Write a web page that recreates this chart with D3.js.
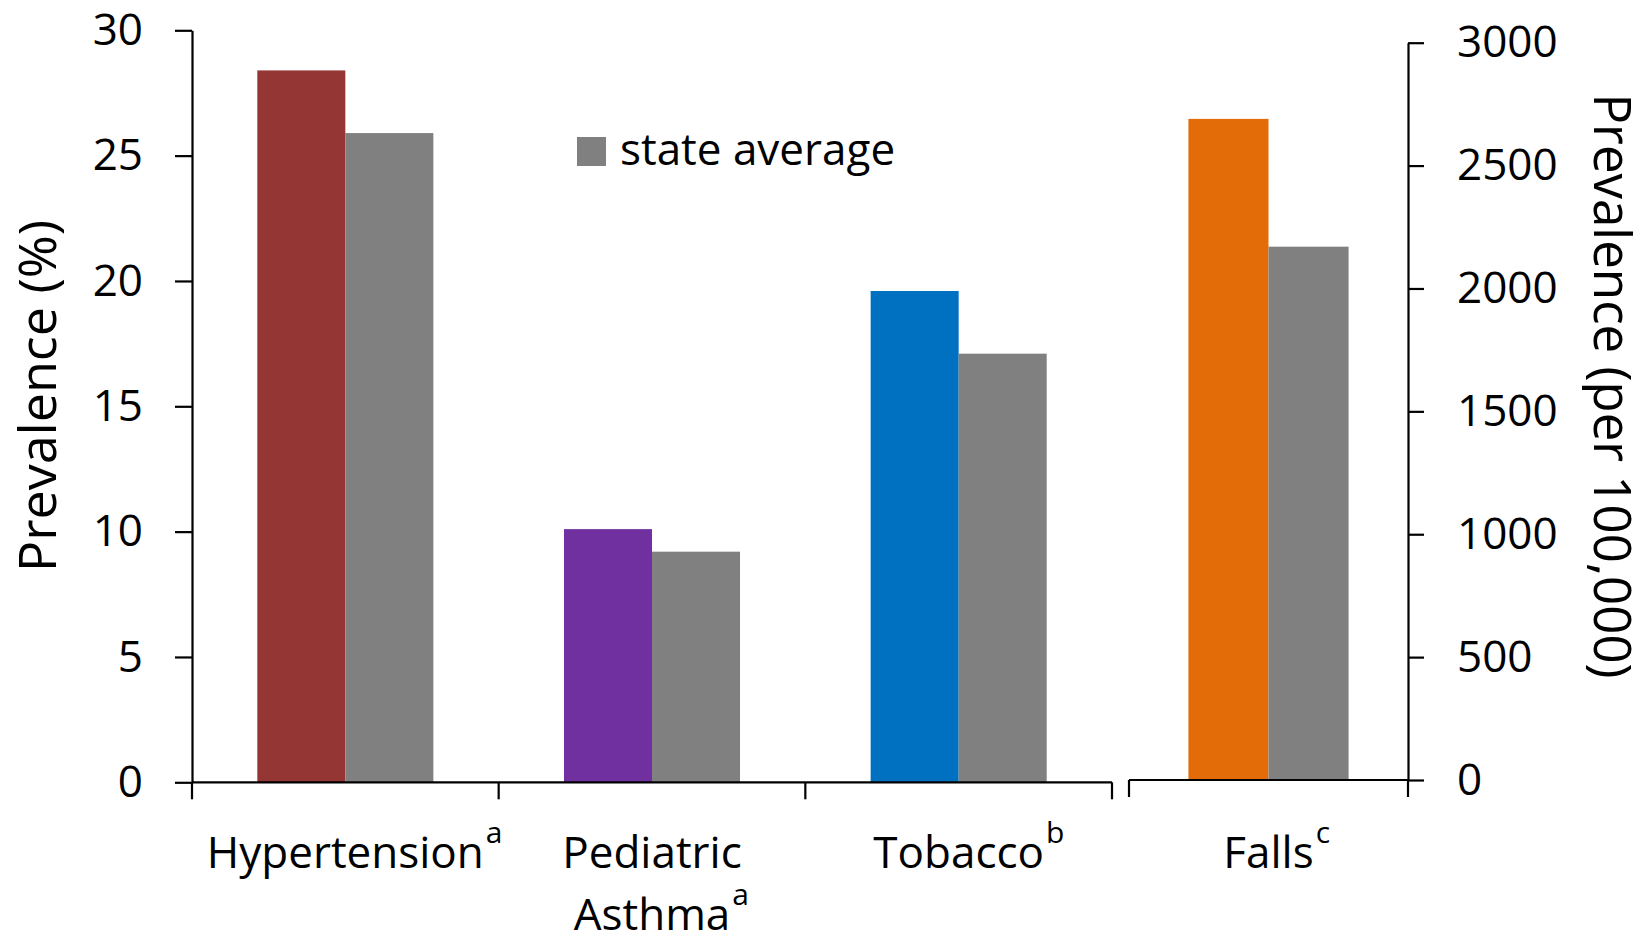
<!DOCTYPE html>
<html>
<head>
<meta charset="utf-8">
<script src="https://cdn.jsdelivr.net/npm/d3@7"></script>
<style>
  html, body { margin: 0; padding: 0; background: #fff; }
  svg { display: block; font-family: "Open Sans", sans-serif; }
</style>
</head>
<body>
<svg id="chart" width="1650" height="939"></svg>
<script>
// Percent-based measures (left axis)
const categories = ["Hypertension", "Pediatric Asthma", "Tobacco"];
const superscripts = ["a", "a", "b"];
const countyValues = [28.4, 10.1, 19.6];
const stateValues = [25.9, 9.2, 17.1];
const countyColors = ["#943634", "#7030A0", "#0070C0"];

// Rate-based measure (right axis, per 100,000)
const rateCategories = ["Falls"];
const rateSuperscripts = ["c"];
const rateCounty = [2690];
const rateState = [2170];
const rateColors = ["#E36C09"];

const leftTicks = [0, 5, 10, 15, 20, 25, 30];
const rightTicks = [0, 500, 1000, 1500, 2000, 2500, 3000];
const stateColor = "#808080";

const svg = d3.select("#chart");
svg.append("rect").attr("width", 1650).attr("height", 939).attr("fill", "#fff");

const yL = d3.scaleLinear().domain([0, 30]).range([782.3, 30.3]);
const yR = d3.scaleLinear().domain([0, 3000]).range([780, 42.7]);

const x0 = d3.scaleBand().domain(categories).range([192, 1112]).paddingInner(0).paddingOuter(0);
const xR = d3.scaleBand().domain(rateCategories).range([1129, 1408]).paddingInner(0).paddingOuter(0);
const x1 = d3.scaleBand().domain(["county", "state"]).range([0, x0.bandwidth()]).paddingInner(0).paddingOuter(0.742);
const x1R = d3.scaleBand().domain(["county", "state"]).range([0, xR.bandwidth()]).paddingInner(0).paddingOuter(0.742);

// Bars: percent panel
const leftData = categories.map((c, i) => ({ c, county: countyValues[i], state: stateValues[i], color: countyColors[i] }));
const gL = svg.append("g");
gL.selectAll("rect.county").data(leftData).join("rect")
  .attr("x", d => x0(d.c) + x1("county"))
  .attr("width", x1.bandwidth())
  .attr("y", d => yL(d.county))
  .attr("height", d => yL(0) - yL(d.county))
  .attr("fill", d => d.color);
gL.selectAll("rect.state").data(leftData).join("rect")
  .attr("x", d => x0(d.c) + x1("state"))
  .attr("width", x1.bandwidth())
  .attr("y", d => yL(d.state))
  .attr("height", d => yL(0) - yL(d.state))
  .attr("fill", stateColor);

// Bars: rate panel
const rightData = rateCategories.map((c, i) => ({ c, county: rateCounty[i], state: rateState[i], color: rateColors[i] }));
const gR = svg.append("g");
gR.selectAll("rect.county").data(rightData).join("rect")
  .attr("x", d => xR(d.c) + x1R("county"))
  .attr("width", x1R.bandwidth())
  .attr("y", d => yR(d.county))
  .attr("height", d => yR(0) - yR(d.county))
  .attr("fill", d => d.color);
gR.selectAll("rect.state").data(rightData).join("rect")
  .attr("x", d => xR(d.c) + x1R("state"))
  .attr("width", x1R.bandwidth())
  .attr("y", d => yR(d.state))
  .attr("height", d => yR(0) - yR(d.state))
  .attr("fill", stateColor);

// Axes
const lineW = 2.2;
function styleAxis(g) {
  g.selectAll("path.domain").attr("stroke", "#000").attr("stroke-width", lineW);
  g.selectAll(".tick line").attr("stroke", "#000").attr("stroke-width", lineW);
  g.selectAll(".tick text").attr("fill", "#000").attr("font-size", 44)
    .attr("font-family", "'Open Sans', sans-serif");
}

const axL = svg.append("g").attr("transform", "translate(192,0)")
  .call(d3.axisLeft(yL).tickValues(leftTicks).tickFormat(d3.format("d"))
    .tickSize(17).tickSizeOuter(0).tickPadding(32));
styleAxis(axL);

const axR = svg.append("g").attr("transform", "translate(1408,0)")
  .call(d3.axisRight(yR).tickValues(rightTicks).tickFormat(d3.format("d"))
    .tickSize(16).tickSizeOuter(0).tickPadding(33));
styleAxis(axR);

// Category baselines with boundary ticks
function baseAxis(scale, y0, tickLen) {
  const [a, b] = scale.range();
  const g = svg.append("g");
  g.append("line").attr("x1", a).attr("x2", b).attr("y1", y0).attr("y2", y0)
    .attr("stroke", "#000").attr("stroke-width", lineW);
  const bounds = scale.domain().map(d => scale(d)).concat([b]);
  g.selectAll("line.b").data(bounds).join("line")
    .attr("x1", d => d).attr("x2", d => d)
    .attr("y1", y0).attr("y2", y0 + tickLen)
    .attr("stroke", "#000").attr("stroke-width", lineW);
}
baseAxis(x0, yL(0), 17);
baseAxis(xR, yR(0), 17);

// Category labels with superscript notes
function catLabel(cx, lines, sup) {
  const baseY = 868, lineH = 62;
  let lastEnd = cx, lastY = baseY;
  lines.forEach((t, k) => {
    const txt = svg.append("text")
      .attr("x", cx).attr("y", baseY + k * lineH)
      .attr("text-anchor", "middle")
      .attr("font-size", 44).attr("fill", "#000")
      .text(t);
    const w = txt.node().getComputedTextLength();
    lastEnd = cx + w / 2;
    lastY = baseY + k * lineH;
  });
  svg.append("text")
    .attr("x", lastEnd + 2).attr("y", lastY - 25)
    .attr("font-size", 30).attr("fill", "#000")
    .text(sup);
}
categories.forEach((c, i) => {
  const cx = x0(c) + x0.bandwidth() / 2;
  catLabel(cx, c === "Pediatric Asthma" ? ["Pediatric", "Asthma"] : [c], superscripts[i]);
});
rateCategories.forEach((c, i) => {
  catLabel(xR(c) + xR.bandwidth() / 2, [c], rateSuperscripts[i]);
});

// Axis titles
svg.append("text")
  .attr("transform", "translate(56,396) rotate(-90)")
  .attr("text-anchor", "middle").attr("font-size", 52).attr("fill", "#000")
  .text("Prevalence (%)");
svg.append("text")
  .attr("transform", "translate(1594,386) rotate(90)")
  .attr("text-anchor", "middle").attr("font-size", 51).attr("fill", "#000")
  .text("Prevalence (per 100,000)");

// Legend
const legend = svg.append("g").attr("transform", "translate(577,137)");
legend.append("rect").attr("width", 29).attr("height", 29).attr("fill", stateColor);
legend.append("text").attr("x", 43).attr("y", 28)
  .attr("font-size", 44).attr("fill", "#000").text("state average");
</script>
</body>
</html>
